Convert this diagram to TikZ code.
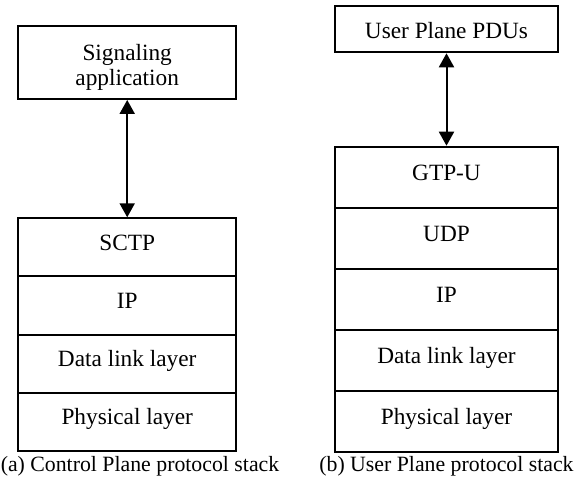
\documentclass[tikz,border=0pt]{standalone}
\usepackage{fontspec}
\setmainfont{Liberation Serif}
\usetikzlibrary{arrows.meta}
\begin{document}
\begin{tikzpicture}[x=1pt,y=-1pt,
  frame/.style={draw,line width=2pt,inner sep=0pt},
  lwidth/.style={minimum width=217.7pt},
  rwidth/.style={minimum width=222.4pt},
  layer/.style={frame,font=\fontsize{23.3}{25}\selectfont,text height=16.5pt,text depth=9.9pt},
  lrow/.style={layer,lwidth,minimum height=58.1pt},
  rrow/.style={layer,rwidth,minimum height=61.1pt},
  txt/.style={inner sep=0pt,font=\fontsize{23.3}{25}\selectfont,align=center},
  caption/.style={inner sep=0pt,anchor=base,font=\fontsize{21.8}{25}\selectfont},
  biarrow/.style={line width=2pt,{Triangle[length=14pt,width=15pt]}-{Triangle[length=14pt,width=15pt]}}
]
\useasboundingbox (0,0) rectangle (582,479);
% left: control plane
\node[frame,lwidth,minimum height=73.3pt] (sig) at (127.2,62.3) {};
\node[txt,anchor=base] (sigtxt) at (127.2,85) {Signaling\\application};
\node[lrow] (sctp) at (127.2,247.35) {SCTP};
\node[lrow] (ipa) at (127.2,305.45) {IP};
\node[lrow] (dla) at (127.2,363.55) {Data link layer};
\node[lrow] (pha) at (127.2,421.65) {Physical layer};
\draw[biarrow] (sig.south) -- (sctp.north);
\node[caption] (capa) at (140,471) {(a) Control Plane protocol stack};
% right: user plane
\node[frame,rwidth,minimum height=46.6pt,font=\fontsize{23.3}{25}\selectfont,text height=18pt,text depth=0pt] (pdu) at (446.5,29) {User Plane PDUs};
\node[rrow] (gtp) at (446.5,177.25) {GTP-U};
\node[rrow] (udp) at (446.5,238.35) {UDP};
\node[rrow] (ipb) at (446.5,299.45) {IP};
\node[rrow] (dlb) at (446.5,360.55) {Data link layer};
\node[rrow] (phb) at (446.5,421.65) {Physical layer};
\draw[biarrow] (pdu.south) -- (gtp.north);
\node[caption] (capb) at (446.5,471.5) {(b) User Plane protocol stack};
\end{tikzpicture}
\end{document}
